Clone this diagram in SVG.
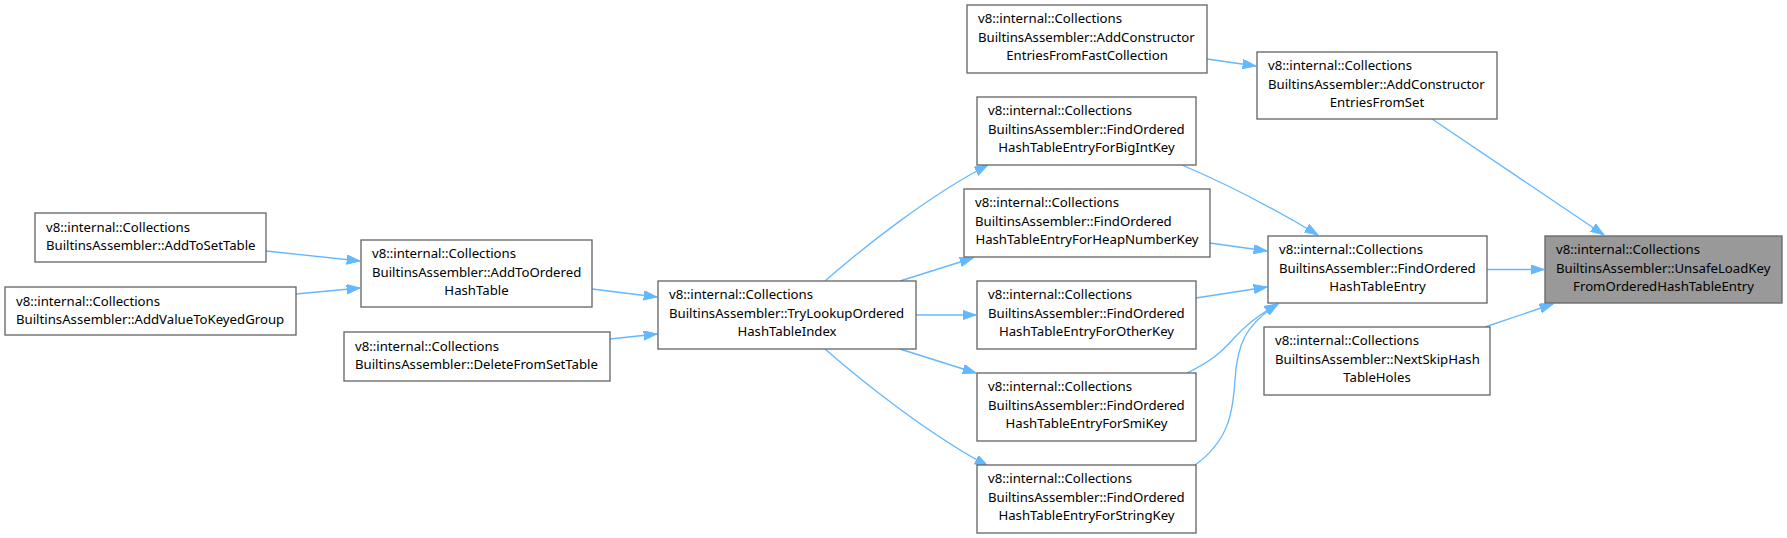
<svg xmlns="http://www.w3.org/2000/svg" width="1787" height="538" viewBox="0 0 1787 538">
<defs>
<style>
.n rect{fill:#ffffff;stroke:#666666;stroke-width:1.33}
.n.hl rect{fill:#999999}
.n text{font-family:"Noto Sans","Open Sans","DejaVu Sans",sans-serif;font-size:13.2px;fill:#000000}
.n text.c{text-anchor:middle}
#edges path{fill:none;stroke:#63b8ff;stroke-width:1.33;marker-end:url(#ah)}
</style>
<marker id="ah" markerWidth="14" markerHeight="10" refX="13.3" refY="4.67" orient="auto" markerUnits="userSpaceOnUse">
<path d="M0,0 L13.3,4.67 L0,9.33 z" fill="#63b8ff" stroke="#63b8ff" stroke-width="1"/>
</marker>
</defs>
<rect width="1787" height="538" fill="#ffffff"/>
<g id="edges">
<path d="M1432,119 L1604,235"/>
<path d="M1487,269.5 L1544,269.5"/>
<path d="M1485,327 L1553,304"/>
<path d="M1207,59 L1256,66"/>
<path d="M1182,165 Q1250,194 1318,235"/>
<path d="M1210,243 L1267,251"/>
<path d="M1196,298 L1267,287"/>
<path d="M1187,373 C1210,362 1222,352 1235,337 C1245,326 1256,316 1278,304"/>
<path d="M1195,465 C1230,440 1233,410 1235,380 C1237,345 1245,325 1278,304"/>
<path d="M825,281 C865,246 930,195 988,165"/>
<path d="M900,281 L973,258"/>
<path d="M916,315 L976,315"/>
<path d="M900,349 L976,373"/>
<path d="M825,349 C865,384 930,435 988,466"/>
<path d="M592,289 L657,297"/>
<path d="M610,339 L657,334"/>
<path d="M266,251 L360,261"/>
<path d="M296,294 L360,288"/>
</g>
<g id="node_unsafe" class="n hl">
<rect x="1545" y="236" width="237" height="67"/>
<text x="1556" y="254">v8::internal::Collections</text>
<text x="1556" y="272.7">BuiltinsAssembler::UnsafeLoadKey</text>
<text class="c" x="1663.5" y="291.4">FromOrderedHashTableEntry</text>
</g>
<g id="node_fromset" class="n">
<rect x="1257" y="52" width="240" height="67"/>
<text x="1268" y="70">v8::internal::Collections</text>
<text x="1268" y="88.7">BuiltinsAssembler::AddConstructor</text>
<text class="c" x="1377" y="107.4">EntriesFromSet</text>
</g>
<g id="node_fastcollection" class="n">
<rect x="967" y="5" width="240" height="68"/>
<text x="978" y="23">v8::internal::Collections</text>
<text x="978" y="41.7">BuiltinsAssembler::AddConstructor</text>
<text class="c" x="1087" y="60.4">EntriesFromFastCollection</text>
</g>
<g id="node_find" class="n">
<rect x="1268" y="236" width="219" height="67"/>
<text x="1279" y="254">v8::internal::Collections</text>
<text x="1279" y="272.7">BuiltinsAssembler::FindOrdered</text>
<text class="c" x="1377.5" y="291.4">HashTableEntry</text>
</g>
<g id="node_nextskip" class="n">
<rect x="1264" y="327" width="226" height="68"/>
<text x="1275" y="345">v8::internal::Collections</text>
<text x="1275" y="363.7">BuiltinsAssembler::NextSkipHash</text>
<text class="c" x="1377" y="382.4">TableHoles</text>
</g>
<g id="node_bigint" class="n">
<rect x="977" y="97" width="219" height="68"/>
<text x="988" y="115">v8::internal::Collections</text>
<text x="988" y="133.7">BuiltinsAssembler::FindOrdered</text>
<text class="c" x="1086.5" y="152.4">HashTableEntryForBigIntKey</text>
</g>
<g id="node_heapnumber" class="n">
<rect x="964" y="189" width="246" height="68"/>
<text x="975" y="207">v8::internal::Collections</text>
<text x="975" y="225.7">BuiltinsAssembler::FindOrdered</text>
<text class="c" x="1087" y="244.4">HashTableEntryForHeapNumberKey</text>
</g>
<g id="node_other" class="n">
<rect x="977" y="281" width="219" height="68"/>
<text x="988" y="299">v8::internal::Collections</text>
<text x="988" y="317.7">BuiltinsAssembler::FindOrdered</text>
<text class="c" x="1086.5" y="336.4">HashTableEntryForOtherKey</text>
</g>
<g id="node_smi" class="n">
<rect x="977" y="373" width="219" height="68"/>
<text x="988" y="391">v8::internal::Collections</text>
<text x="988" y="409.7">BuiltinsAssembler::FindOrdered</text>
<text class="c" x="1086.5" y="428.4">HashTableEntryForSmiKey</text>
</g>
<g id="node_string" class="n">
<rect x="977" y="465" width="219" height="68"/>
<text x="988" y="483">v8::internal::Collections</text>
<text x="988" y="501.7">BuiltinsAssembler::FindOrdered</text>
<text class="c" x="1086.5" y="520.4">HashTableEntryForStringKey</text>
</g>
<g id="node_trylookup" class="n">
<rect x="658" y="281" width="258" height="68"/>
<text x="669" y="299">v8::internal::Collections</text>
<text x="669" y="317.7">BuiltinsAssembler::TryLookupOrdered</text>
<text class="c" x="787" y="336.4">HashTableIndex</text>
</g>
<g id="node_addtoordered" class="n">
<rect x="361" y="240" width="231" height="67"/>
<text x="372" y="258">v8::internal::Collections</text>
<text x="372" y="276.7">BuiltinsAssembler::AddToOrdered</text>
<text class="c" x="476.5" y="295.4">HashTable</text>
</g>
<g id="node_delete" class="n">
<rect x="344" y="332" width="266" height="49"/>
<text x="355" y="350.7">v8::internal::Collections</text>
<text x="355" y="369.4">BuiltinsAssembler::DeleteFromSetTable</text>
</g>
<g id="node_addtoset" class="n">
<rect x="35" y="213" width="231" height="49"/>
<text x="46" y="231.7">v8::internal::Collections</text>
<text x="46" y="250.4">BuiltinsAssembler::AddToSetTable</text>
</g>
<g id="node_addvalue" class="n">
<rect x="5" y="287" width="291" height="48"/>
<text x="16" y="305.7">v8::internal::Collections</text>
<text x="16" y="324.4">BuiltinsAssembler::AddValueToKeyedGroup</text>
</g>
</svg>
